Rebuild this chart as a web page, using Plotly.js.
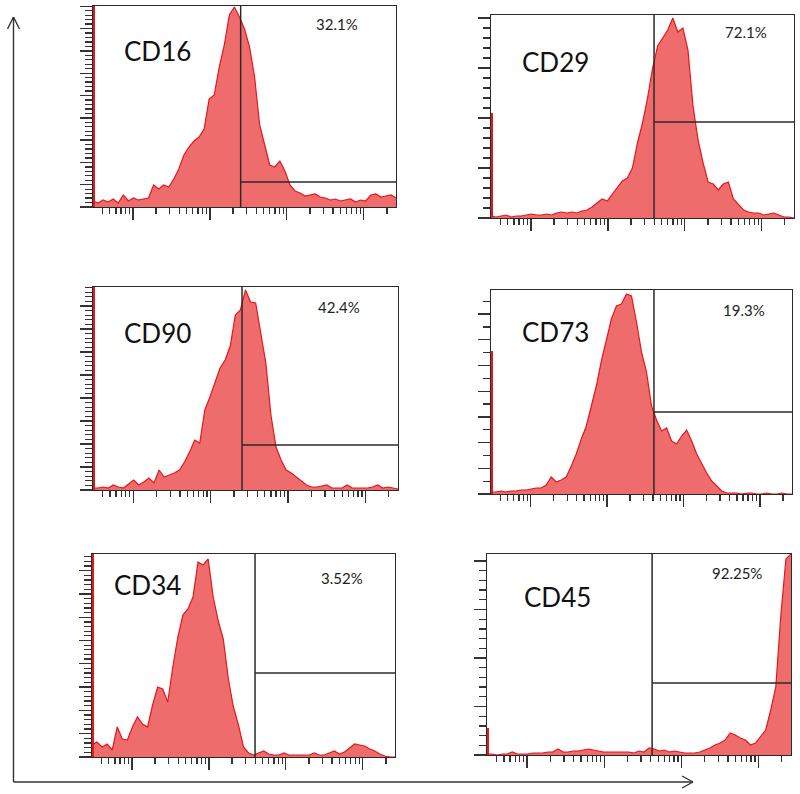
<!DOCTYPE html>
<html>
<head>
<meta charset="utf-8">
<script src="https://cdn.plot.ly/plotly-3.0.1.min.js"></script>
<style>
html,body{margin:0;padding:0;background:#fff;}
#chart{width:800px;height:794px;}
</style>
</head>
<body>
<div id="chart"></div>
<script>
// ---------- DATA ----------
const markers = ["CD16", "CD29", "CD90", "CD73", "CD34", "CD45"];
const positivePct = ["32.1%", "72.1%", "42.4%", "19.3%", "3.52%", "92.25%"];

// log10 fluorescence axis
const xRange = [0.48, 4.42];
const decadeTicks = [1, 2, 3, 4];

// histogram counts (relative events per bin, 61 bins across the axis)
const cd16 = [6,4,7,5,8,4,12,6,9,7,8,9,22,18,22,20,28,38,52,60,66,70,78,108,112,140,162,192,200,190,
              178,160,130,82,62,42,40,46,36,22,16,14,11,12,13,10,9,7,8,6,7,8,5,7,6,12,13,10,11,12,9];
const cd29 = [2,1,2,3,1,2,2,3,4,3,3,4,3,5,6,5,6,5,7,8,11,15,19,17,24,30,37,40,50,75,
              95,120,150,172,180,188,200,186,190,168,112,78,55,36,34,28,34,36,19,14,8,6,5,5,3,4,5,3,1,1,0];
const cd90 = [2,2,3,2,5,3,2,6,10,5,8,12,7,20,13,15,17,20,28,38,50,47,80,93,108,122,130,144,175,180,
              200,188,187,158,127,75,43,30,20,17,13,9,5,3,3,4,5,2,2,2,5,2,2,2,2,3,5,2,3,2,1];
const cd73 = [2,2,3,2,3,3,4,4,5,6,6,9,17,12,14,17,28,40,55,68,88,108,133,155,175,188,190,200,198,172,
              142,122,88,74,63,66,53,50,58,64,53,40,30,21,13,8,3,1,1,1,0,1,1,0,0,1,0,0,1,0,0];
const cd34 = [12,15,10,13,7,30,18,17,30,40,33,30,52,70,68,55,90,120,142,148,160,195,192,198,160,136,118,78,50,32,
              10,4,2,4,6,3,2,2,4,2,2,2,2,2,4,2,2,4,6,3,5,9,13,12,11,8,6,3,1,0,0];
const cd45 = [1,1,0,1,1,3,1,1,1,2,2,2,3,3,6,3,3,4,4,5,6,5,4,3,3,3,3,3,3,2,
              4,3,7,6,4,5,3,4,3,2,2,2,3,5,7,10,12,15,22,20,17,15,10,12,18,25,45,68,140,196,201];
const seriesCounts = [cd16, cd29, cd90, cd73, cd34, cd45];

// off-scale (first channel) events piled at the low edge
const edgeCounts = [260, 105, 260, 143, 260, 27];

// gate thresholds: positive cut-off (log10) and marker-line level (counts)
const gateX = [2.40, 2.60, 2.405, 2.613, 2.60, 2.62];
const gateY = [25, 96, 45, 82, 84, 72];

// count-axis maxima
const yMax = [201, 203, 203, 204, 203, 201];

// ---------- STYLE / LAYOUT ----------
const W = 800, H = 794;
const boxes = [ // [left, right, top, bottom] in px
  [93, 396, 6, 207],
  [491, 794, 15, 218],
  [93, 398, 287, 490],
  [491, 792, 290, 494],
  [92, 395, 554, 757],
  [487, 791, 554, 755]
];
const yTickStyle = [ // [major step, minor step]
  [22.3, 4.46],
  [50, 10],
  [23, 4.6],
  [25.7, 12.85],
  [23.3, 4.66],
  [48.5, 9.7]
];
const labelPos = [[157, 51], [555, 62], [157, 333], [555, 332], [147, 585], [557, 597]];
const pctPos = [[337, 24], [746, 32], [339, 307], [744, 310], [342, 578], [737, 573]];

const px = v => v / W;
const py = v => 1 - v / H;

const minorTicks = [];
for (let n = 0; n <= 4; n++) {
  for (let k = 2; k <= 9; k++) {
    const v = n + Math.log10(k);
    if (v > xRange[0] && v < xRange[1]) minorTicks.push(v);
  }
}
function steps(step, max) {
  const out = [];
  for (let v = 0; v <= max + 0.01; v += step) out.push(v);
  return out;
}

const nb = cd16.length;
const binX = [];
for (let i = 0; i < nb; i++) binX.push(xRange[0] + i * (xRange[1] - xRange[0]) / (nb - 1));

const traces = [];
const layout = {
  width: W, height: H,
  margin: {l: 0, r: 0, t: 0, b: 0},
  paper_bgcolor: '#ffffff',
  plot_bgcolor: '#ffffff',
  showlegend: false,
  shapes: [],
  annotations: []
};

const FRAME = '#2a2a2a';
const FILL = 'rgba(236,92,92,0.9)';
const LINE = '#e5171c';

seriesCounts.forEach((counts, i) => {
  const n = i + 1;
  const xa = 'x' + (n === 1 ? '' : n), ya = 'y' + (n === 1 ? '' : n);
  const xk = 'xaxis' + (n === 1 ? '' : n), yk = 'yaxis' + (n === 1 ? '' : n);
  const oy = 'y' + (n + 6), oyk = 'yaxis' + (n + 6);
  const b = boxes[i];

  traces.push({
    type: 'scatter', mode: 'lines', x: binX, y: counts,
    xaxis: xa, yaxis: ya,
    fill: 'tozeroy', fillcolor: FILL,
    line: {color: LINE, width: 1.2, shape: 'linear'},
    hoverinfo: 'skip'
  });
  traces.push({
    type: 'scatter', mode: 'lines', x: [xRange[0], xRange[0]], y: [0, edgeCounts[i]],
    xaxis: xa, yaxis: ya,
    line: {color: LINE, width: 4},
    hoverinfo: 'skip'
  });
  // gate lines
  traces.push({
    type: 'scatter', mode: 'lines', x: [gateX[i], gateX[i]], y: [0, yMax[i]],
    xaxis: xa, yaxis: ya, line: {color: FRAME, width: 1.5}, hoverinfo: 'skip'
  });
  traces.push({
    type: 'scatter', mode: 'lines', x: [gateX[i], xRange[1]], y: [gateY[i], gateY[i]],
    xaxis: xa, yaxis: ya, line: {color: FRAME, width: 1.5}, hoverinfo: 'skip'
  });
  // invisible trace so the overlaying major-tick axis is drawn
  traces.push({
    type: 'scatter', mode: 'markers', x: [xRange[0]], y: [0],
    xaxis: xa, yaxis: oy, marker: {size: 1, opacity: 0}, hoverinfo: 'skip'
  });

  const majorY = steps(yTickStyle[i][0], yMax[i]);
  const minorY = steps(yTickStyle[i][1], yMax[i]);

  layout[xk] = {
    domain: [px(b[0]), px(b[1])], anchor: ya, range: xRange,
    showgrid: false, zeroline: false,
    showline: true, mirror: true, linecolor: FRAME, linewidth: 1.4,
    ticks: 'outside', tickmode: 'array', tickvals: decadeTicks, ticklen: 12,
    tickwidth: 1.4, tickcolor: '#333', showticklabels: false,
    minor: {tickmode: 'array', tickvals: minorTicks, ticks: 'outside', ticklen: 6, tickwidth: 1.3, tickcolor: '#333', showgrid: false},
    fixedrange: true
  };
  // minor count ticks on the main axis
  layout[yk] = {
    domain: [py(b[3]), py(b[2])], anchor: xa, range: [0, yMax[i]],
    showgrid: false, zeroline: false,
    showline: true, mirror: true, linecolor: FRAME, linewidth: 1.4,
    ticks: 'outside', tickmode: 'array', tickvals: minorY, ticklen: 7,
    tickwidth: 1.3, tickcolor: '#333', showticklabels: false,
    fixedrange: true
  };
  // major count ticks on an overlaying axis
  layout[oyk] = {
    overlaying: ya, anchor: xa, side: 'left', range: [0, yMax[i]],
    showgrid: false, zeroline: false, showline: false,
    ticks: 'outside', tickmode: 'array', tickvals: majorY, ticklen: 12,
    tickwidth: 1.4, tickcolor: '#333', showticklabels: false,
    fixedrange: true
  };

  layout.annotations.push({
    xref: 'paper', yref: 'paper', x: px(labelPos[i][0]), y: py(labelPos[i][1]),
    text: markers[i], showarrow: false, xanchor: 'center', yanchor: 'middle',
    font: {family: 'Lato, "Open Sans", sans-serif', size: 26, color: '#111'}
  });
  layout.annotations.push({
    xref: 'paper', yref: 'paper', x: px(pctPos[i][0]), y: py(pctPos[i][1]),
    text: positivePct[i], showarrow: false, xanchor: 'center', yanchor: 'middle',
    font: {family: 'Lato, "Open Sans", sans-serif', size: 15, color: '#222'}
  });
});

// outer axis arrows (count ↑, fluorescence →)
const AX = '#333';
const arrowLine = {color: AX, width: 1.4};
function seg(x0, y0, x1, y1) {
  layout.shapes.push({type: 'line', xref: 'paper', yref: 'paper',
    x0: px(x0), y0: py(y0), x1: px(x1), y1: py(y1), line: arrowLine});
}
seg(13.5, 782, 13.5, 17);
seg(13.5, 17, 7.5, 29);
seg(13.5, 17, 19.5, 29);
seg(13.5, 782, 693, 782);
seg(693, 782, 682, 776);
seg(693, 782, 682, 788);

Plotly.newPlot('chart', traces, layout, {displayModeBar: false, staticPlot: true});
</script>
</body>
</html>
